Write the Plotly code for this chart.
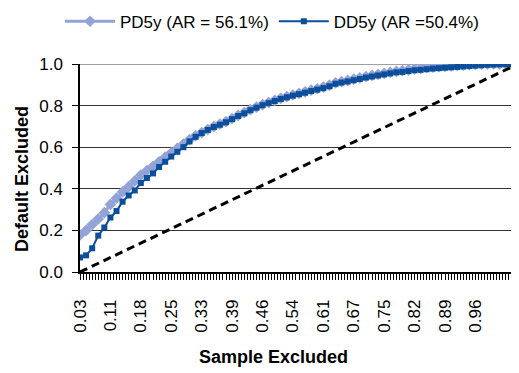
import plotly.graph_objects as go

# --- data ---------------------------------------------------------------
n_categories = 145  # sample-excluded buckets (category axis)
tick_labels = ["0.03", "0.11", "0.18", "0.25", "0.33", "0.39", "0.46",
               "0.54", "0.61", "0.67", "0.75", "0.82", "0.89", "0.96"]
tick_index = [0, 10, 20, 30, 40, 50, 60, 70, 80, 90, 100, 110, 120, 130]

point_index = list(range(0, 145, 2))

dd5y = [0.070, 0.080, 0.114, 0.175, 0.214, 0.262, 0.293, 0.338, 0.368, 0.392,
        0.428, 0.452, 0.474, 0.505, 0.530, 0.555, 0.578, 0.600, 0.628, 0.650,
        0.668, 0.683, 0.697, 0.708, 0.720, 0.735, 0.750, 0.763, 0.778, 0.790,
        0.802, 0.812, 0.822, 0.832, 0.840, 0.848, 0.855, 0.862, 0.870, 0.877,
        0.884, 0.893, 0.905, 0.911, 0.916, 0.922, 0.928, 0.935, 0.940, 0.945,
        0.950, 0.955, 0.960, 0.962, 0.966, 0.970, 0.972, 0.975, 0.978, 0.980,
        0.982, 0.984, 0.986, 0.988, 0.990, 0.992, 0.994, 0.996, 0.997, 0.998,
        0.999, 1.000, 1.000]

pd5y = [0.178, 0.200, 0.228, 0.255, 0.285, 0.325, 0.355, 0.385, 0.410, 0.438,
        0.466, 0.488, 0.508, 0.530, 0.552, 0.573, 0.594, 0.615, 0.636, 0.655,
        0.670, 0.685, 0.699, 0.711, 0.723, 0.738, 0.753, 0.766, 0.781, 0.793,
        0.805, 0.815, 0.825, 0.835, 0.843, 0.851, 0.859, 0.866, 0.874, 0.881,
        0.889, 0.898, 0.909, 0.915, 0.921, 0.927, 0.933, 0.940, 0.945, 0.950,
        0.955, 0.960, 0.965, 0.968, 0.972, 0.976, 0.979, 0.982, 0.985, 0.987,
        0.989, 0.991, 0.993, 0.995, 0.997, 0.998, 0.999, 1.000, 1.000, 1.000,
        1.000, 1.000, 1.000]

random_x = [0, 144]
random_y = [0.0, 1.0]

names = ["PD5y (AR = 56.1%)", "DD5y (AR =50.4%)"]

# --- figure -------------------------------------------------------------
FONT = "Liberation Sans, Arial, sans-serif"
LIGHT = "#93A3D6"
DARK = "#0B4E9B"

# the page body has an 8px default margin; size the figure to fit the window
W, H = 511, 365

fig = go.Figure()
fig.add_trace(go.Scatter(
    x=point_index, y=pd5y, name=names[0], mode="lines+markers",
    line=dict(color=LIGHT, width=3),
    marker=dict(symbol="diamond", size=9, color=LIGHT),
))
fig.add_trace(go.Scatter(
    x=point_index, y=dd5y, name=names[1], mode="lines+markers",
    line=dict(color=DARK, width=2),
    marker=dict(symbol="square", size=6, color=DARK),
))
fig.add_trace(go.Scatter(
    x=random_x, y=random_y, mode="lines", showlegend=False,
    line=dict(color="black", width=3, dash="8px,5px"),
))

fig.add_shape(type="line", xref="paper", x0=0, x1=1, yref="y", y0=1, y1=1,
              line=dict(color="#A0A0A0", width=2), layer="below")

fig.update_layout(
    width=W, height=H,
    margin=dict(l=72, r=1, t=56, b=101),
    paper_bgcolor="white", plot_bgcolor="white",
    font=dict(family=FONT, size=17, color="black"),
    showlegend=True,
    legend=dict(orientation="h", x=(264 - 72) / 438, xanchor="center",
                y=1 - 13.7 / H, yref="container", yanchor="middle",
                font=dict(size=17), itemwidth=50, tracegroupgap=0),
    xaxis=dict(
        range=[0, n_categories - 1], showgrid=False, zeroline=False,
        showline=True, linecolor="black", linewidth=1.5,
        tickmode="array", tickvals=tick_index, ticktext=tick_labels,
        tickangle=-90, ticks="outside", ticklen=6, tickcolor="black",
        tickfont=dict(size=17), ticklabelstandoff=13, automargin=False,
        minor=dict(dtick=1, ticks="outside", ticklen=6, tickcolor="black",
                   showgrid=False),
    ),
    yaxis=dict(
        range=[0, 1], dtick=0.2, tickformat=".1f",
        showgrid=True, gridcolor="#333333", gridwidth=1, zeroline=False,
        showline=True, linecolor="black", linewidth=1.5,
        ticks="outside", ticklen=6, tickcolor="black",
        tickfont=dict(size=17), ticklabelstandoff=6, automargin=False,
    ),
    annotations=[
        dict(text="Sample Excluded", xref="paper", yref="paper",
             x=(273 - 80) / 438, y=-(357 - 272) / 208, showarrow=False,
             xanchor="center", yanchor="middle",
             font=dict(size=18, family=FONT, weight="bold")),
        dict(text="Default Excluded", xref="paper", yref="paper",
             x=-(80 - 22) / 438, y=(272 - 179) / 208, showarrow=False,
             textangle=-90, xanchor="center", yanchor="middle",
             font=dict(size=18, family=FONT, weight="bold")),
    ],
)

fig.write_html("out.html")
